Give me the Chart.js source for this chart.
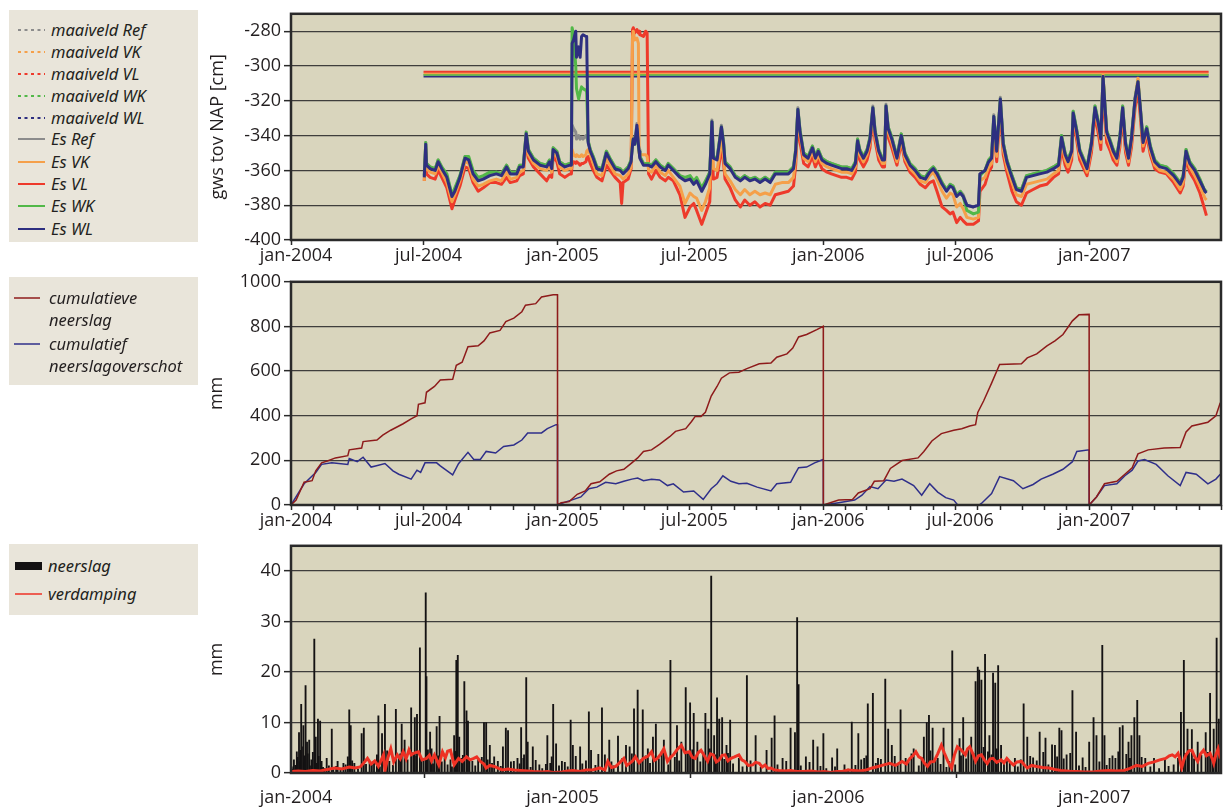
<!DOCTYPE html>
<html lang="nl">
<head>
<meta charset="utf-8">
<title>Grondwaterstand, neerslag en verdamping</title>
<script src="https://cdn.jsdelivr.net/npm/chart.js@4.4.1/dist/chart.umd.min.js"></script>
<style>
  html, body { margin:0; padding:0; background:#ffffff; }
  body { position:relative; width:1223px; height:810px; overflow:hidden; font-family:"Open Sans","Noto Sans",sans-serif; color:#231f20; }
  canvas { position:absolute; left:0; }
  .lg { position:absolute; left:9px; width:189px; background:#e9e5da; font-family:"Noto Sans","Open Sans",sans-serif; font-style:italic; font-size:16.5px; color:#231f20; }
  .it { position:absolute; left:0; width:189px; height:22px; }
  .it svg { position:absolute; left:9px; top:0; }
  .it span { position:absolute; left:42px; top:0; line-height:22px; white-space:nowrap; }
  .tl { position:absolute; left:40px; line-height:22px; white-space:nowrap; }
</style>
</head>
<body>
<canvas id="c1" width="1223" height="268" style="top:0px;width:1223px;height:268px"></canvas>
<canvas id="c2" width="1223" height="264" style="top:268px;width:1223px;height:264px"></canvas>
<canvas id="c3" width="1223" height="278" style="top:532px;width:1223px;height:278px"></canvas>
<div class="lg" id="lg1" style="top:10px;height:232px"></div>
<div class="lg" id="lg2" style="top:277px;height:108px"></div>
<div class="lg" id="lg3" style="top:544px;height:71px"></div>
<script>
// ---------------- DATA ----------------
// x values are days since 1 jan 2004
const X_MAX = 1277;
const yearTickLabels = ['jan-2004','jul-2004','jan-2005','jul-2005','jan-2006','jul-2006','jan-2007'];
const yearTickDays   = [0, 182, 366, 547, 731, 912, 1096];
const rainTickLabels = ['jan-2004','jan-2005','jan-2006','jan-2007'];
const rainTickDays   = [0, 366, 731, 1096];

// ground level (maaiveld), cm NAP
const maaiveldNames  = ['maaiveld Ref','maaiveld VK','maaiveld VL','maaiveld WK','maaiveld WL'];
const maaiveldLevels = [-305.1, -304.2, -303.3, -305.1, -306.1];
const maaiveldSpan   = [182, 1260];

// groundwater level (gws tov NAP, cm)
const gwDays = [
183,185,186,191,198,202,207,214,221,225,
232,239,244,250,257,264,273,282,289,296,
301,310,314,319,323,326,333,342,351,355,
358,360,365,369,376,383,385,386,388,391,
392,395,397,399,401,405,406,408,411,415,
420,427,433,438,445,452,454,456,463,467,
469,470,472,475,477,478,479,484,487,489,
491,495,501,507,514,518,525,534,541,548,
553,557,564,569,575,578,580,585,588,591,
594,596,603,610,617,623,630,637,644,651,
658,665,674,683,690,693,696,699,704,710,
716,720,724,729,736,742,749,756,763,770,
775,778,781,786,791,795,799,802,807,812,
815,817,820,825,832,838,843,850,857,864,
871,877,882,887,894,900,905,909,914,919,
923,928,937,944,946,953,958,962,965,969,
974,978,983,990,996,1003,1010,1019,1028,1038,
1047,1054,1058,1063,1067,1072,1074,1079,1083,1093,
1099,1104,1109,1112,1115,1120,1125,1129,1134,1138,
1142,1146,1150,1154,1159,1163,1166,1170,1175,1180,
1186,1193,1202,1212,1221,1225,1229,1234,1241,1248,
1255,1257];
const esWL = [
-364,-345,-357,-359,-360,-355,-359,-364,-375,-372,
-364,-353,-354,-362,-366,-365,-363,-362,-363,-358,
-362,-362,-358,-358,-339,-349,-354,-357,-358,-355,
-359,-348,-350,-356,-358,-357,-357,-287,-285,-280,
-295,-289,-295,-283,-282,-283,-283,-344,-349,-353,
-359,-360,-350,-354,-359,-360,-361,-362,-359,-355,
-345,-342,-345,-334,-345,-349,-353,-357,-357,-357,
-357,-358,-355,-358,-360,-357,-360,-364,-366,-365,
-368,-366,-372,-368,-362,-332,-353,-354,-345,-335,
-345,-356,-359,-364,-366,-364,-366,-365,-367,-365,
-367,-362,-362,-362,-359,-349,-325,-338,-351,-353,
-347,-353,-349,-354,-356,-357,-358,-359,-359,-360,
-356,-343,-349,-353,-349,-342,-324,-338,-349,-354,
-354,-323,-336,-342,-353,-340,-351,-357,-360,-364,
-365,-361,-359,-362,-368,-372,-369,-370,-375,-373,
-375,-380,-381,-380,-362,-360,-355,-353,-329,-349,
-319,-345,-355,-364,-371,-372,-364,-363,-362,-361,
-359,-357,-341,-351,-355,-349,-327,-338,-349,-359,
-345,-324,-334,-342,-306,-338,-344,-349,-353,-342,
-324,-345,-353,-342,-319,-309,-323,-344,-336,-347,
-355,-358,-359,-363,-368,-364,-349,-356,-360,-366,
-372,-373];
const esWK = [
-363,-344,-356,-358,-359,-354,-358,-362,-374,-370,
-363,-352,-352,-360,-364,-363,-361,-361,-362,-357,
-361,-361,-357,-357,-338,-348,-353,-356,-357,-354,
-358,-347,-349,-355,-357,-356,-356,-278,-282,-300,
-313,-319,-315,-312,-313,-314,-315,-343,-348,-352,
-358,-359,-349,-353,-358,-359,-360,-361,-358,-354,
-345,-342,-345,-336,-346,-349,-352,-356,-356,-356,
-356,-357,-354,-357,-359,-356,-359,-363,-364,-363,
-366,-364,-370,-366,-361,-332,-352,-353,-344,-335,
-344,-355,-358,-363,-365,-363,-365,-364,-366,-364,
-366,-361,-361,-361,-358,-348,-325,-337,-350,-352,
-346,-352,-348,-353,-355,-356,-357,-358,-358,-359,
-355,-342,-348,-352,-348,-341,-324,-337,-348,-353,
-353,-323,-335,-341,-352,-339,-350,-356,-359,-363,
-364,-360,-358,-361,-367,-371,-368,-369,-374,-372,
-375,-383,-385,-384,-363,-360,-354,-352,-329,-348,
-319,-344,-354,-363,-370,-371,-363,-362,-361,-360,
-358,-356,-340,-350,-354,-348,-326,-337,-348,-358,
-344,-323,-333,-341,-306,-337,-343,-348,-352,-341,
-323,-344,-352,-341,-319,-309,-323,-343,-335,-346,
-354,-357,-358,-362,-367,-363,-348,-355,-359,-365,
-372,-371];
const esRef = [
-363,-344,-356,-358,-359,-354,-358,-363,-374,-371,
-363,-352,-353,-361,-365,-364,-362,-361,-362,-357,
-361,-361,-357,-357,-338,-348,-353,-356,-357,-354,
-358,-347,-349,-355,-357,-356,-356,-334,-336,-338,
-342,-340,-342,-341,-342,-340,-341,-343,-348,-352,
-358,-359,-349,-353,-358,-359,-360,-361,-358,-354,
-344,-341,-344,-333,-344,-348,-352,-356,-356,-356,
-356,-357,-354,-357,-359,-356,-359,-363,-365,-364,
-367,-365,-371,-367,-361,-331,-352,-353,-344,-334,
-344,-355,-358,-363,-365,-363,-365,-364,-366,-364,
-366,-361,-361,-361,-358,-348,-324,-337,-350,-352,
-346,-352,-348,-353,-355,-356,-357,-358,-358,-359,
-355,-342,-348,-352,-348,-341,-323,-337,-348,-353,
-353,-322,-335,-341,-352,-339,-350,-356,-359,-363,
-364,-360,-358,-361,-367,-371,-368,-369,-374,-372,
-374,-380,-381,-380,-362,-360,-354,-352,-328,-348,
-318,-344,-354,-363,-370,-371,-363,-362,-361,-360,
-358,-356,-340,-350,-354,-348,-326,-337,-348,-358,
-344,-323,-333,-341,-306,-337,-343,-348,-352,-341,
-323,-344,-352,-341,-318,-308,-322,-343,-335,-346,
-354,-357,-358,-362,-367,-363,-348,-355,-359,-365,
-372,-372];
const esVK = [
-366,-347,-359,-361,-362,-357,-361,-367,-378,-374,
-366,-355,-356,-365,-369,-368,-366,-365,-366,-361,
-365,-364,-361,-360,-341,-351,-356,-359,-360,-357,
-361,-350,-352,-358,-360,-359,-359,-348,-351,-352,
-351,-352,-352,-351,-352,-351,-349,-348,-351,-356,
-362,-363,-353,-357,-362,-363,-364,-365,-362,-358,
-283,-280,-285,-284,-287,-350,-351,-351,-351,-352,
-360,-361,-357,-361,-363,-360,-364,-369,-379,-373,
-375,-376,-383,-378,-370,-338,-359,-360,-352,-341,
-352,-362,-366,-371,-374,-371,-374,-372,-374,-373,
-374,-368,-367,-367,-364,-353,-327,-340,-353,-355,
-349,-355,-351,-356,-358,-359,-360,-361,-361,-362,
-358,-345,-351,-355,-351,-344,-326,-340,-351,-356,
-356,-325,-338,-344,-355,-342,-353,-359,-362,-366,
-367,-363,-361,-365,-372,-376,-373,-374,-381,-379,
-382,-387,-388,-387,-366,-364,-358,-356,-332,-352,
-321,-348,-358,-367,-374,-375,-368,-367,-366,-365,
-362,-360,-343,-354,-358,-351,-328,-340,-351,-361,
-347,-325,-336,-344,-305,-340,-346,-351,-355,-344,
-326,-347,-355,-344,-320,-307,-324,-346,-337,-349,
-357,-360,-361,-365,-371,-367,-351,-358,-363,-369,
-376,-377];
const esVL = [
-366,-350,-362,-364,-365,-360,-364,-370,-382,-377,
-369,-358,-359,-367,-372,-370,-367,-367,-368,-364,
-367,-366,-363,-362,-342,-353,-358,-362,-366,-363,
-364,-352,-355,-362,-364,-362,-362,-357,-355,-356,
-355,-356,-357,-356,-356,-355,-353,-352,-356,-360,
-364,-366,-357,-360,-364,-367,-379,-367,-365,-359,
-279,-278,-281,-279,-281,-280,-282,-283,-280,-281,
-362,-365,-360,-364,-366,-364,-366,-374,-387,-381,
-379,-383,-391,-385,-378,-345,-365,-364,-356,-346,
-356,-365,-370,-377,-381,-377,-380,-378,-381,-379,
-380,-374,-373,-372,-369,-357,-330,-344,-356,-358,
-352,-358,-354,-359,-361,-362,-363,-364,-364,-365,
-361,-348,-354,-358,-354,-347,-329,-343,-354,-358,
-358,-328,-341,-347,-357,-344,-355,-361,-364,-368,
-370,-367,-366,-372,-381,-383,-385,-384,-390,-387,
-389,-391,-391,-389,-372,-368,-361,-358,-335,-355,
-325,-351,-361,-372,-378,-380,-373,-371,-369,-368,
-364,-362,-347,-357,-361,-354,-331,-343,-354,-363,
-350,-328,-340,-348,-313,-344,-349,-354,-357,-347,
-329,-350,-357,-347,-324,-314,-328,-349,-340,-351,
-359,-361,-362,-367,-373,-369,-353,-361,-366,-373,
-383,-386];

// cumulative precipitation (mm), reset each 1 January
const cumPDays = [0,7,18,29,34,42,50,61,78,80,97,99,118,126,137,154,165,173,175,184,186,197,205,222,227,235,243,257,265,273,287,295,306,317,322,336,344,360,365.9,
 366,371,382,393,404,412,424,437,447,457,468,476,484,495,506,520,528,542,550,555,563,569,577,585,591,602,615,626,643,659,667,681,689,697,708,722,730.9,
 731,752,771,779,795,801,814,823,839,861,869,880,893,910,921,932,940,943,951,962,973,1003,1011,1024,1038,1049,1060,1073,1082,1095.9,
 1096,1106,1117,1134,1145,1155,1163,1177,1199,1221,1229,1237,1259,1270,1276];
const cumP = [0,22,102,109,153,189,197,211,221,247,255,284,291,313,335,364,386,400,451,458,505,531,560,563,626,640,709,713,735,771,782,822,837,866,895,902,932,942,942,
 0,10,15,48,63,95,104,138,153,160,189,211,240,247,272,306,330,342,374,397,397,415,488,531,568,592,595,611,633,636,662,677,703,753,764,786,801,
 0,22,25,54,73,106,109,164,199,211,240,287,320,335,342,354,360,415,466,546,630,633,659,677,713,735,764,825,852,854,
 0,36,95,106,138,167,229,247,255,258,327,354,371,400,458];

// cumulative precipitation surplus (mm)
const cumEDays = [0,18,34,42,56,78,80,91,99,110,116,129,140,148,165,173,178,184,200,205,222,230,243,251,260,268,281,292,306,317,325,344,352,364,365.9,
 366,371,385,398,409,420,432,446,457,468,476,484,495,506,517,525,539,553,558,566,577,585,593,604,615,626,640,659,667,686,692,697,708,719,730.9,
 731,752,774,784,795,806,817,828,839,855,866,877,888,899,910,918,935,948,962,973,992,1005,1019,1030,1046,1060,1073,1079,1095.9,
 1096,1106,1117,1134,1145,1155,1163,1172,1188,1204,1221,1229,1243,1259,1270,1276];
const cumE = [0,95,146,182,189,182,208,194,214,170,175,186,153,138,116,156,146,189,189,175,135,185,236,204,204,240,233,262,269,291,323,323,342,360,360,
 0,7,22,36,73,80,102,95,106,116,121,109,115,112,87,95,58,63,48,25,73,95,131,106,95,97,80,63,95,102,138,167,170,189,204,
 0,10,22,44,83,73,112,106,116,87,44,95,58,33,22,-10,-25,7,51,127,109,73,92,116,138,160,194,240,247,
 0,36,87,95,131,156,197,204,182,131,87,146,138,95,116,138];

// daily precipitation (mm) on rain days
const rainDays = [1,2,4,6,8,9,11,12,13,14,15,17,18,19,20,22,23,25,26,28,30,32,34,35,37,38,40,42,44,46,49,52,56,58,62,64,68,72,75,78,80,82,84,87,92,97,100,103,108,111,114,118,120,122,125,129,132,135,140,144,148,150,152,156,160,165,168,170,172,173,177,179,182,185,186,188,191,193,195,197,200,202,204,207,211,215,219,221,224,226,227,229,231,234,236,238,241,243,245,249,253,257,262,265,268,270,273,276,279,284,288,291,295,298,302,306,311,314,316,319,320,323,325,329,332,336,341,345,350,352,356,358,360,364,368,372,376,380,384,387,391,397,400,405,409,412,418,422,427,431,437,440,443,449,455,460,465,468,471,476,480,483,487,490,493,497,501,505,509,512,518,521,527,530,533,536,542,545,548,551,553,558,562,566,569,573,575,577,581,583,585,588,592,595,598,600,603,607,615,620,626,631,638,645,653,660,664,668,675,680,686,692,695,697,700,707,712,717,723,727,731,735,743,747,750,760,765,770,775,779,783,787,790,792,799,803,806,810,816,820,825,829,833,837,844,848,852,855,862,866,869,873,876,878,881,885,888,892,896,900,904,908,912,918,920,923,927,930,934,937,940,943,945,948,951,953,957,959,962,964,967,969,971,975,979,983,987,994,998,1002,1006,1011,1015,1019,1024,1028,1033,1036,1040,1045,1049,1052,1055,1058,1061,1065,1070,1073,1078,1082,1087,1091,1096,1102,1106,1110,1114,1117,1120,1124,1128,1132,1136,1138,1142,1147,1150,1152,1154,1158,1162,1165,1168,1173,1180,1185,1192,1200,1205,1212,1218,1222,1226,1228,1231,1233,1237,1240,1245,1250,1256,1259,1262,1265,1267,1270,1271,1274];
const rainMm = [1.2,0.8,2.6,1.5,4.2,3.1,8,2.2,4.5,13.6,5.2,9.4,3.4,2.1,17.3,6.1,3.8,6.5,1.4,2.6,4.1,26.5,7.1,1.9,10.7,3.3,10.3,2.3,1.1,0.9,2.9,1.4,8.7,0.7,1.3,2.3,0.9,1.9,1.6,3.2,12.5,9.4,2.4,1.9,0.8,7.8,8.9,1.7,2.3,1.6,2.1,3.6,11.3,1.2,7.8,13.6,4.4,2.3,1.5,12.6,3.2,3.8,9.7,6.5,2.6,12.9,4.1,11,3.3,11.6,24.8,2.9,2.7,35.7,19.1,4.6,8.1,4.8,1.8,2.9,9.2,3.4,11.2,2.2,2.9,1.6,2.6,1.2,7.4,4.3,22.3,23.3,7.1,2.9,3.5,18.1,12.3,10.3,2.8,2.3,1.4,2.9,3.1,10,10,2.6,5.5,1.9,3.2,2.3,1.3,5.2,8.9,8.4,2.2,2.3,2.9,1.8,9,2.9,3.6,18.9,6.1,1.1,5.2,2.5,1.6,0.9,1.7,7.4,1.9,3.2,13.6,5.8,1.4,2.3,2.1,1.2,10.5,5.5,3.3,5.2,1.8,2.4,12.1,4.5,1.5,3.7,12.9,3.6,6.5,2.2,1.4,7.3,2.9,5.5,5.2,3.8,12.7,16.4,2.6,12.5,3.4,4.8,1.9,7.1,9.7,2.8,4.2,6.5,1.6,22.3,3.1,9.4,2.4,6.1,16.9,3.9,13.9,4.6,11.8,6.1,2.2,3.5,11.8,8.7,4.8,39,7.4,3.6,14.9,10.7,11,2.7,5.5,3.9,10.5,1.8,2.9,1.2,19.3,2.4,7.4,1.1,4.5,6.9,11.3,1.6,2.9,2.3,8.9,8,30.8,17.5,1.4,3.2,2.1,6.5,5.2,1.3,7.8,0.9,3,1.2,4.8,1.6,0.8,10.1,1.5,7.8,2.6,2.9,3.4,13.7,15.8,1.9,2.9,2.7,18.6,8.7,5.5,3.3,1.6,12.5,2.9,2.1,3.8,4.8,1.4,3.1,7.1,10,11.4,4.4,8.9,2.5,2.9,1.7,8.9,1.1,2.3,24.2,1.6,6.8,3.4,11,2.8,4.6,7.1,3.9,18.1,21,20.4,18.4,5.1,23.5,4.2,7.4,3.6,19.8,17.8,4.8,21.3,5.5,2.4,2.9,1.9,2.9,1.2,2.6,13.7,7.1,3.3,3,2.4,8.1,4.1,6.9,1.6,5.6,5.5,3.2,8.9,8.4,2.8,3.6,3.9,16.3,8.1,1.4,3,1.1,6.1,11,7.4,2.2,25.3,7.4,1.5,2.9,3.4,2.9,4.2,9,9.4,3.7,6.1,2.9,7.4,11,14.4,7.4,3.1,2.9,1.2,2.9,0.9,2.9,1.3,1.6,2.9,12,22.3,3.9,8.7,4.6,8.6,2.8,6.1,3.5,8,4.1,15.8,3.3,8.7,2.4,26.7,10.7];

// daily evaporation (mm)
const evapDays = [0,10,20,30,40,50,60,70,80,88,95,100,105,110,115,120,127,129,133,137,141,146,150,154,158,162,165,170,175,180,186,190,193,197,203,208,212,215,219,224,230,235,241,246,251,255,260,265,268,273,279,285,290,298,306,315,325,333,345,352,360,372,380,387,397,405,414,424,431,435,440,446,451,457,461,465,469,473,478,484,490,495,499,503,508,512,517,521,525,530,536,541,547,551,555,559,563,568,572,576,580,584,588,592,596,600,604,609,615,619,623,628,634,638,643,647,651,655,659,664,670,678,686,694,703,714,724,732,741,749,757,765,773,781,790,798,806,814,822,830,839,845,850,854,858,862,866,870,874,878,883,888,893,897,902,907,911,915,920,926,929,932,936,940,944,948,952,956,960,964,969,975,979,983,988,992,997,1003,1007,1011,1017,1024,1032,1041,1049,1057,1065,1072,1079,1090,1101,1112,1123,1133,1144,1152,1161,1169,1177,1185,1193,1201,1206,1210,1214,1218,1220,1223,1226,1229,1233,1237,1241,1245,1249,1253,1257,1262,1265,1267,1270,1273,1276];
const evapMm = [0.3,0.4,0.3,0.5,0.4,0.7,1.0,0.8,1.2,1.0,1.2,2.0,2.9,1.8,2.4,1.3,3.6,0.5,3.0,4.8,2.2,3.6,2.8,4.2,2.8,4.6,3.6,4.0,4.2,2.6,2.9,3.5,2.4,3.6,1.6,4.2,3.0,4.3,4.5,1.6,2.9,2.3,3.2,2.6,2.9,3.2,2.3,1.8,1.0,1.5,1.3,0.9,0.6,0.8,0.6,0.5,0.4,0.3,0.2,0.3,0.1,0.2,0.4,0.5,0.3,0.6,0.6,1.0,0.6,2.3,1.1,1.3,2.0,2.9,1.5,1.9,2.4,3.2,2.0,2.9,3.3,4.2,2.5,2.9,3.8,4.8,2.3,3.1,3.6,4.6,5.5,4.0,4.2,3.1,2.9,4.0,4.5,3.3,2.3,3.8,3.6,2.2,2.6,3.5,3.6,2.4,2.9,3.2,3.6,2.6,2.3,1.5,1.6,2.1,1.9,1.2,1.6,0.9,1.0,0.6,0.5,0.4,0.5,0.3,0.3,0.4,0.2,0.3,0.1,0.3,0.3,0.6,0.5,0.4,0.6,1.0,1.3,1.6,1.9,1.5,2.3,1.8,2.9,3.4,4.2,3.2,2.9,1.9,1.3,2.2,2.3,3.8,5.5,4.0,2.3,1.0,3.6,5.2,4.6,3.6,4.8,5.2,3.9,2.3,3.4,3.6,2.6,1.9,2.8,2.9,2.1,2.6,2.0,2.9,2.1,1.6,2.2,2.3,1.6,1.0,1.5,1.3,1.1,1.0,0.7,0.5,0.4,0.3,0.3,0.2,0.2,0.4,0.5,0.4,0.5,0.9,1.5,1.3,1.9,2.2,2.6,2.9,3.4,3.6,3.2,3.9,3.0,1.0,2.6,3.6,4.4,4.5,3.2,2.3,3.8,4.5,3.4,3.9,2.8,1.9,3.6,4.8,2.9];

// ---------------- STYLE ----------------
const INK = '#231f20', FRAME = '#2a2a2a', GRID = 'rgba(45,45,45,0.9)', PLOT_BG = '#d9d5bd';
const COL = { ref:'#8c8c8c', vk:'#f5a04a', vl:'#ee3a2b', wk:'#52b848', wl:'#2e2f80',
              cumP:'#8e1b1b', cumE:'#2f2f8a', rain:'#141213', evap:'#ee3124' };
Chart.defaults.font.family = "'Open Sans','Noto Sans',sans-serif";
Chart.defaults.color = INK;

const framePlugin = {
  id: 'frame',
  beforeDraw(chart) {
    const a = chart.chartArea, ctx = chart.ctx;
    ctx.save(); ctx.fillStyle = PLOT_BG;
    ctx.fillRect(a.left, a.top, a.right - a.left, a.bottom - a.top); ctx.restore();
  },
  afterDatasetsDraw(chart) {
    const a = chart.chartArea, ctx = chart.ctx;
    ctx.save(); ctx.strokeStyle = FRAME; ctx.lineWidth = 2.5;
    ctx.strokeRect(a.left, a.top, a.right - a.left, a.bottom - a.top); ctx.restore();
  }
};

const pts = (xs, ys) => xs.map((x, i) => ({ x, y: ys[i] }));
const dayOf = (y, m) => Math.round((Date.UTC(y, m, 1) - Date.UTC(2004, 0, 1)) / 864e5);

function makeX(tickDays, labels, axisHeight, pad) {
  const map = new Map(); labels.forEach((l, i) => map.set(tickDays[i], l));
  return {
    type: 'linear', min: 0, max: X_MAX, offset: false,
    afterBuildTicks: s => { s.ticks = s._myTicks.map(v => ({ value: v })); },
    afterFit: s => { s.height = axisHeight; },
    border: { display: false },
    grid: { drawOnChartArea: false, drawTicks: true, tickLength: 5, tickWidth: 1.5, tickColor: FRAME },
    ticks: { autoSkip: false, maxRotation: 0, minRotation: 0, padding: pad, labelOffset: 5,
             color: INK, font: { size: 18 }, callback: v => (map.has(v) ? map.get(v) : '') }
  };
}
function makeY(min, max, step, title, titlePad) {
  return {
    min, max,
    afterFit: s => { s.width = 96; },
    border: { display: false },
    grid: { color: GRID, lineWidth: 1.3, drawTicks: true, tickLength: 7, tickWidth: 1.5, tickColor: FRAME },
    ticks: { stepSize: step, includeBounds: false, padding: 3, color: INK, font: { size: 18 }, callback: v => String(v) },
    title: { display: true, text: title, color: INK, font: { size: 18 }, padding: { top: titlePad, bottom: 0 } }
  };
}
function baseOptions(top, xScale, yScale) {
  return {
    responsive: false, animation: false, devicePixelRatio: 1,
    layout: { padding: { left: 195, right: 2, top: top, bottom: 0 } },
    plugins: { legend: { display: false }, tooltip: { enabled: false } },
    elements: { point: { radius: 0 }, line: { tension: 0 } },
    scales: { x: xScale, y: yScale }
  };
}
function withTicks(scale, days) { const f = scale.afterBuildTicks; scale.afterBuildTicks = s => { s._myTicks = days; f(s); }; return scale; }

// ---------------- PANEL 1: groundwater ----------------
const esNames  = ['Es Ref','Es VK','Es VL','Es WK','Es WL'];
const esColors = [COL.ref, COL.vk, COL.vl, COL.wk, COL.wl];
const esSeries = [esRef, esVK, esVL, esWK, esWL];
const esOrder  = [3, 2, 4, 1, 0];
const ds1 = [];
maaiveldNames.forEach((n, i) => ds1.push({
  label: n, data: maaiveldSpan.map(d => ({ x: d, y: maaiveldLevels[i] })),
  borderColor: esColors[i], borderWidth: 1.8, order: 10 + [3, 1, 0, 2, 4][i]
}));
esNames.forEach((n, i) => ds1.push({
  label: n, data: pts(gwDays, esSeries[i]), borderColor: esColors[i], borderWidth: 3,
  borderJoinStyle: 'round', order: esOrder[i]
}));
new Chart(document.getElementById('c1'), {
  type: 'line', data: { datasets: ds1 },
  options: baseOptions(10, withTicks(makeX(yearTickDays, yearTickLabels, 28, 0), yearTickDays),
                       makeY(-400, -270, 20, 'gws tov NAP [cm]', 12)),
  plugins: [framePlugin]
});

// ---------------- PANEL 2: cumulative ----------------
const monthDays = [];
for (let y = 2004; y <= 2007; y++) for (let m = 0; m < 12; m++) { const d = dayOf(y, m); if (d <= X_MAX) monthDays.push(d); }
new Chart(document.getElementById('c2'), {
  type: 'line',
  data: { datasets: [
    { label: 'cumulatieve neerslag', data: pts(cumPDays, cumP), borderColor: COL.cumP, borderWidth: 1.5, order: 0, clip: 0 },
    { label: 'cumulatief neerslagoverschot', data: pts(cumEDays, cumE), borderColor: COL.cumE, borderWidth: 1.5, order: 1, clip: 0 }
  ]},
  options: baseOptions(10, withTicks(makeX(yearTickDays, yearTickLabels, 27, 0), monthDays),
                       makeY(0, 1000, 200, 'mm', 11)),
  plugins: [framePlugin]
});

// ---------------- PANEL 3: precipitation & evaporation ----------------
new Chart(document.getElementById('c3'), {
  type: 'bar',
  data: { datasets: [
    { type: 'line', label: 'verdamping', data: pts(evapDays, evapMm), borderColor: COL.evap, borderWidth: 3, order: 0 },
    { type: 'bar', label: 'neerslag', data: pts(rainDays, rainMm), backgroundColor: COL.rain, barThickness: 1.2, order: 1 }
  ]},
  options: baseOptions(10, withTicks(makeX(rainTickDays, rainTickLabels, 37, 9), rainTickDays),
                       makeY(0, 45, 10, 'mm', 11)),
  plugins: [framePlugin]
});

// ---------------- HTML legends ----------------
const sample = (c, dash, w) => `<svg width="30" height="22"><line x1="0" y1="11" x2="27" y2="11" stroke="${c}" stroke-width="${w || 2}" ${dash ? 'stroke-dasharray="3 3.5"' : ''}/></svg>`;
const lg1Rows = [20, 42, 64, 86, 108, 129, 152, 174, 196, 219];
let h1 = '';
maaiveldNames.forEach((n, i) => { h1 += `<div class="it" style="top:${lg1Rows[i] - 11}px">${sample(esColors[i], true)}<span>${n}</span></div>`; });
esNames.forEach((n, i) => { h1 += `<div class="it" style="top:${lg1Rows[i + 5] - 11}px">${sample(esColors[i], false)}<span>${n}</span></div>`; });
document.getElementById('lg1').innerHTML = h1;

document.getElementById('lg2').innerHTML =
  `<div class="it" style="top:10px"><svg width="30" height="22" style="left:5px"><line x1="0" y1="11" x2="26" y2="11" stroke="${COL.cumP}" stroke-width="1.5"/></svg></div>` +
  `<div class="tl" style="top:10px">cumulatieve</div><div class="tl" style="top:32px">neerslag</div>` +
  `<div class="it" style="top:56px"><svg width="30" height="22" style="left:5px"><line x1="0" y1="11" x2="26" y2="11" stroke="${COL.cumE}" stroke-width="1.5"/></svg></div>` +
  `<div class="tl" style="top:56px">cumulatief</div><div class="tl" style="top:78px">neerslagoverschot</div>`;

document.getElementById('lg3').innerHTML =
  `<div class="it" style="top:11px"><svg width="30" height="22" style="left:6px"><rect x="0" y="7" width="27" height="8" fill="${COL.rain}"/></svg></div>` +
  `<div class="tl" style="top:11px;left:39px">neerslag</div>` +
  `<div class="it" style="top:39px"><svg width="30" height="22" style="left:6px"><line x1="0" y1="11" x2="27" y2="11" stroke="${COL.evap}" stroke-width="1.5"/></svg></div>` +
  `<div class="tl" style="top:39px;left:39px">verdamping</div>`;
</script>
</body>
</html>
